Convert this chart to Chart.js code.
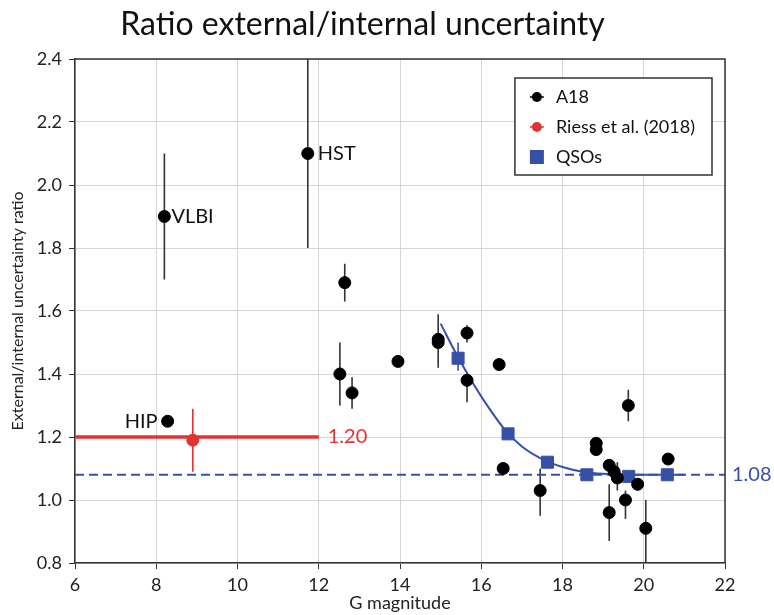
<!DOCTYPE html>
<html>
<head>
<meta charset="utf-8">
<script src="https://cdn.jsdelivr.net/npm/chart.js@4.4.1/dist/chart.umd.min.js"></script>
<style>
  html, body { margin: 0; padding: 0; background: #fff; }
</style>
</head>
<body>
<canvas id="myChart" width="774" height="615"></canvas>
<script>
// A18 sources (G magnitude, ratio, error bar ends)
var a18Mag   = [8.2, 11.73, 8.28, 12.64, 12.52, 12.82, 13.95, 14.94, 14.94, 15.65, 15.65, 16.44, 16.54, 17.45, 18.83, 18.83, 19.62, 20.6, 19.15, 19.27, 19.35, 19.15, 19.55, 19.85, 20.05];
var a18Ratio = [1.90, 2.10, 1.25, 1.69, 1.40, 1.34, 1.44, 1.51, 1.50, 1.53, 1.38, 1.43, 1.10, 1.03, 1.18, 1.16, 1.30, 1.13, 1.11, 1.09, 1.07, 0.96, 1.00, 1.05, 0.91];
var a18Low   = [1.70, 1.80, null, 1.63, 1.30, 1.29, null, 1.42, null, 1.50, 1.31, null, null, 0.95, null, null, 1.25, null, null, null, 1.03, 0.87, 0.94, 1.03, 0.80];
var a18High  = [2.10, 2.45, null, 1.75, 1.50, 1.39, null, 1.59, null, 1.555, 1.40, null, null, 1.10, null, null, 1.35, null, null, null, 1.12, 1.05, 1.03, 1.07, 1.00];
var a18Names = ['VLBI', 'HST', 'HIP'];

// Riess et al. (2018)
var riessMag = [8.9];
var riessRatio = [1.19];
var riessLow = [1.09];
var riessHigh = [1.29];
var riessLevel = 1.20;
var riessSpan = [6, 12];

// QSOs
var qsoMag = [15.43, 16.66, 17.63, 18.6, 19.63, 20.58];
var qsoRatio = [1.45, 1.21, 1.12, 1.08, 1.075, 1.08];
var qsoLow = [1.41, null, null, null, null, null];
var qsoHigh = [1.50, null, null, null, null, null];
var qsoLevel = 1.08;

// fitted curve through the QSO bins
var fitMag = [15.0, 15.4, 15.8, 16.2, 16.6, 17.0, 17.5, 18.0, 18.5, 19.0, 20.0, 21.0];
var fitRatio = [1.56, 1.46, 1.37, 1.29, 1.22, 1.17, 1.13, 1.105, 1.09, 1.083, 1.08, 1.08];

var xRange = [6, 22];
var yRange = [0.8, 2.4];

var RED = '#e33232';
var BLUE = '#3650a8';
var FONT = 'Lato, "Open Sans", sans-serif';

function pts(xs, ys) {
    return xs.map(function (x, i) { return { x: x, y: ys[i] }; });
}

function drawBars(c, xs, ys, mag, lo, hi, color) {
    c.strokeStyle = color;
    c.lineWidth = 1.6;
    for (var i = 0; i < mag.length; i++) {
        if (lo[i] == null) continue;
        var px = xs.getPixelForValue(mag[i]);
        c.beginPath();
        c.moveTo(px, ys.getPixelForValue(lo[i]));
        c.lineTo(px, ys.getPixelForValue(hi[i]));
        c.stroke();
    }
}

var extras = {
    id: 'extras',
    beforeDatasetsDraw: function (chart) {
        var c = chart.ctx, xs = chart.scales.x, ys = chart.scales.y, a = chart.chartArea;
        c.save();
        c.beginPath();
        c.rect(a.left, a.top, a.right - a.left, a.bottom - a.top);
        c.clip();
        drawBars(c, xs, ys, a18Mag, a18Low, a18High, '#333');
        drawBars(c, xs, ys, riessMag, riessLow, riessHigh, RED);
        drawBars(c, xs, ys, qsoMag, qsoLow, qsoHigh, BLUE);
        c.restore();
    },
    afterDraw: function (chart) {
        var c = chart.ctx, xs = chart.scales.x, ys = chart.scales.y, a = chart.chartArea;
        c.save();
        // frame
        c.strokeStyle = '#333';
        c.lineWidth = 1.5;
        c.beginPath();
        c.moveTo(a.left, a.top);
        c.lineTo(a.right, a.top);
        c.lineTo(a.right, a.bottom);
        c.stroke();

        // point labels
        c.font = '20px ' + FONT;
        c.textBaseline = 'middle';
        c.fillStyle = '#111';
        c.textAlign = 'left';
        c.fillText(a18Names[0], xs.getPixelForValue(a18Mag[0]) + 7, ys.getPixelForValue(a18Ratio[0]));
        c.fillText(a18Names[1], xs.getPixelForValue(a18Mag[1]) + 10, ys.getPixelForValue(a18Ratio[1]));
        c.textAlign = 'right';
        c.fillText(a18Names[2], xs.getPixelForValue(a18Mag[2]) - 10, ys.getPixelForValue(a18Ratio[2]));

        c.textAlign = 'left';
        c.fillStyle = RED;
        c.fillText(riessLevel.toFixed(2), xs.getPixelForValue(riessSpan[1]) + 9, ys.getPixelForValue(riessLevel));
        c.fillStyle = BLUE;
        c.fillText(qsoLevel.toFixed(2), a.right + 7, ys.getPixelForValue(qsoLevel));

        // legend
        var items = chart.data.datasets.slice(0, 3);
        c.font = '18px ' + FONT;
        var tw = 0;
        items.forEach(function (d) { tw = Math.max(tw, c.measureText(d.label).width); });
        var bw = tw + 58, bh = 97;
        var bx = a.right - 13 - bw, by = a.top + 19;
        c.fillStyle = '#fff';
        c.fillRect(bx, by, bw, bh);
        c.strokeStyle = '#333';
        c.lineWidth = 1.5;
        c.strokeRect(bx, by, bw, bh);
        items.forEach(function (d, i) {
            var cy = by + 19 + i * 30, mx = bx + 22;
            c.fillStyle = d.backgroundColor;
            c.strokeStyle = d.backgroundColor;
            if (d.pointStyle === 'rect') {
                c.fillRect(mx - 7, cy - 7, 14, 14);
            } else {
                c.lineWidth = 1.5;
                c.beginPath();
                c.moveTo(mx - 7, cy);
                c.lineTo(mx + 7, cy);
                c.stroke();
                c.beginPath();
                c.arc(mx, cy, 5, 0, Math.PI * 2);
                c.fill();
            }
            c.fillStyle = '#111';
            c.textAlign = 'left';
            c.fillText(d.label, bx + 41, cy);
        });
        c.restore();
    }
};

var ctx = document.getElementById('myChart').getContext('2d');
var myChart = new Chart(ctx, {
    type: 'scatter',
    data: {
        datasets: [{
            label: 'A18',
            data: pts(a18Mag, a18Ratio),
            backgroundColor: '#000',
            borderColor: '#000',
            pointRadius: 6,
            pointHoverRadius: 6
        }, {
            label: 'Riess et al. (2018)',
            data: pts(riessMag, riessRatio),
            backgroundColor: RED,
            borderColor: RED,
            pointRadius: 6
        }, {
            label: 'QSOs',
            data: pts(qsoMag, qsoRatio),
            backgroundColor: BLUE,
            borderColor: BLUE,
            pointStyle: 'rect',
            pointRadius: 8.5
        }, {
            label: 'fit',
            data: pts(fitMag, fitRatio),
            showLine: true,
            borderColor: BLUE,
            borderWidth: 2,
            pointRadius: 0,
            cubicInterpolationMode: 'monotone'
        }, {
            label: 'Riess level',
            data: pts(riessSpan, [riessLevel, riessLevel]),
            showLine: true,
            borderColor: RED,
            borderWidth: 3.5,
            pointRadius: 0
        }, {
            label: 'QSO level',
            data: pts(xRange, [qsoLevel, qsoLevel]),
            showLine: true,
            borderColor: BLUE,
            borderWidth: 2,
            borderDash: [9, 5],
            pointRadius: 0
        }]
    },
    options: {
        responsive: false,
        animation: false,
        layout: { padding: { left: 0, right: 49, top: 0, bottom: 0 } },
        plugins: {
            legend: { display: false },
            tooltip: { enabled: false },
            title: {
                display: true,
                text: 'Ratio external/internal uncertainty',
                color: '#111',
                font: { family: FONT, size: 32, weight: 'normal' },
                padding: { top: 5, bottom: 15.6 }
            }
        },
        scales: {
            x: {
                type: 'linear',
                min: xRange[0],
                max: xRange[1],
                ticks: { stepSize: 2, color: '#222', padding: 5, font: { family: FONT, size: 18 } },
                grid: { color: '#d6d6d6', tickColor: '#333', tickLength: 6 },
                border: { color: '#333', width: 1.5 },
                title: {
                    display: true,
                    text: 'G magnitude',
                    color: '#222',
                    font: { family: FONT, size: 18 },
                    padding: { top: 0, bottom: 1 }
                },
                afterFit: function (s) { s.height = 52; }
            },
            y: {
                min: yRange[0],
                max: yRange[1],
                ticks: {
                    stepSize: 0.2,
                    color: '#222',
                    padding: 7,
                    font: { family: FONT, size: 18 },
                    callback: function (v) { return v.toFixed(1); }
                },
                grid: { color: '#d6d6d6', tickColor: '#333', tickLength: 6 },
                border: { color: '#333', width: 1.5 },
                title: {
                    display: true,
                    text: 'External/internal uncertainty ratio',
                    color: '#222',
                    font: { family: FONT, size: 16 },
                    padding: { top: 8, bottom: 0 }
                },
                afterFit: function (s) { s.width = 75; }
            }
        }
    },
    plugins: [extras]
});
</script>
</body>
</html>
